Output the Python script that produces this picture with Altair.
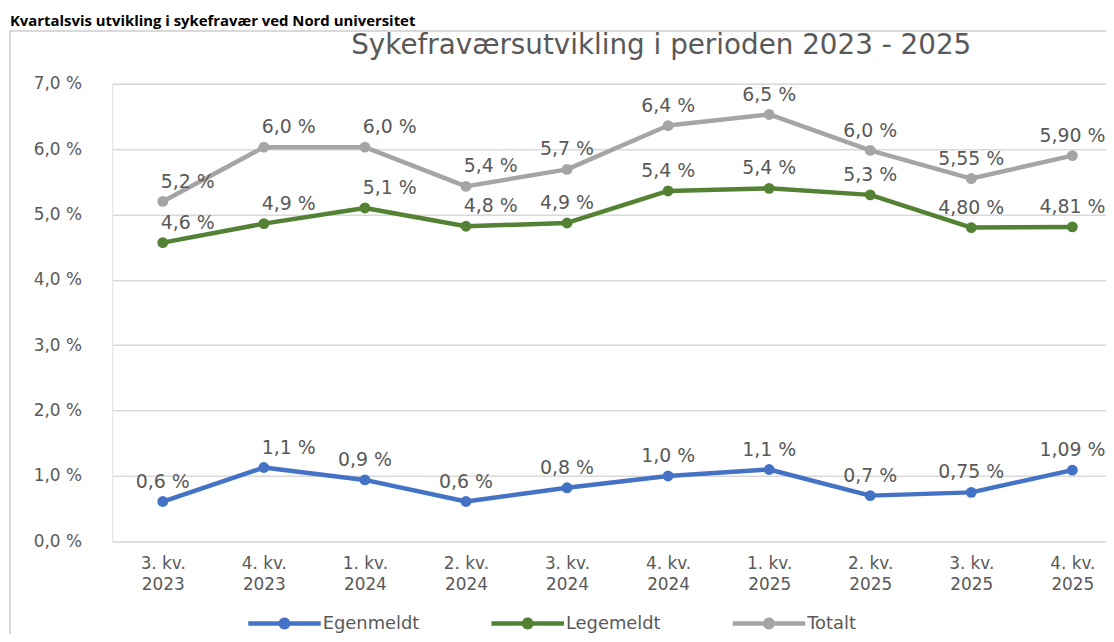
import altair as alt
import pandas as pd

# ---------------- data ----------------
kvartaler = ["3. kv. 2023", "4. kv. 2023", "1. kv. 2024", "2. kv. 2024", "3. kv. 2024",
             "4. kv. 2024", "1. kv. 2025", "2. kv. 2025", "3. kv. 2025", "4. kv. 2025"]
serier = ["Egenmeldt", "Legemeldt", "Totalt"]

egenmeldt = [0.61, 1.13, 0.94, 0.61, 0.82, 1.00, 1.10, 0.70, 0.75, 1.09]
legemeldt = [4.57, 4.86, 5.10, 4.82, 4.87, 5.36, 5.40, 5.30, 4.80, 4.81]
totalt = [5.20, 6.03, 6.03, 5.43, 5.69, 6.36, 6.53, 5.98, 5.55, 5.90]

egenmeldt_etiketter = ["0,6 %", "1,1 %", "0,9 %", "0,6 %", "0,8 %", "1,0 %", "1,1 %", "0,7 %", "0,75 %", "1,09 %"]
legemeldt_etiketter = ["4,6 %", "4,9 %", "5,1 %", "4,8 %", "4,9 %", "5,4 %", "5,4 %", "5,3 %", "4,80 %", "4,81 %"]
totalt_etiketter = ["5,2 %", "6,0 %", "6,0 %", "5,4 %", "5,7 %", "6,4 %", "6,5 %", "6,0 %", "5,55 %", "5,90 %"]

y_ticks = [0, 1, 2, 3, 4, 5, 6, 7]

# labels that Excel had moved to the right of their point
flyttede_etiketter = [("Egenmeldt", "4. kv. 2023"),
                      ("Legemeldt", "3. kv. 2023"), ("Legemeldt", "4. kv. 2023"),
                      ("Legemeldt", "1. kv. 2024"), ("Legemeldt", "2. kv. 2024"),
                      ("Totalt", "3. kv. 2023"), ("Totalt", "4. kv. 2023"),
                      ("Totalt", "1. kv. 2024"), ("Totalt", "2. kv. 2024")]

overskrift = "Kvartalsvis utvikling i sykefravær ved Nord universitet"
tittel = "Sykefraværsutvikling i perioden 2023 - 2025"

farger = ["#4472C4", "#548235", "#A5A5A5"]
tekstfarge = "#595959"
FONT = "DejaVu Sans"

# ---------------- table ----------------
rows = []
for serie, verdier, etiketter in [("Egenmeldt", egenmeldt, egenmeldt_etiketter),
                                  ("Legemeldt", legemeldt, legemeldt_etiketter),
                                  ("Totalt", totalt, totalt_etiketter)]:
    for k, v, e in zip(kvartaler, verdier, etiketter):
        rows.append({"kvartal": k, "serie": serie, "verdi": v, "etikett": e,
                     "flyttet": (serie, k) in flyttede_etiketter})
df = pd.DataFrame(rows)

one = pd.DataFrame({"a": [0]})

# ---------------- scales / encodings ----------------
x_scale = alt.Scale(type="point", domain=kvartaler, range=[0, 1018], padding=0.5)
y_scale = alt.Scale(domain=[0, 7], nice=False)

x_enc = alt.X("kvartal:N", scale=x_scale,
              axis=alt.Axis(title=None, labelAngle=0, domain=False, ticks=False, grid=False,
                            labelExpr="[slice(datum.label, 0, 6), slice(datum.label, 7)]",
                            labelFontSize=17, labelColor=tekstfarge, labelFont=FONT,
                            labelPadding=14, labelLineHeight=21))
y_enc = alt.Y("verdi:Q", scale=y_scale,
              axis=alt.Axis(title=None, values=y_ticks, domain=False, ticks=False,
                            labelExpr="replace(format(datum.value, '.1f'), '.', ',') + ' %'",
                            labelFontSize=17, labelColor=tekstfarge, labelFont=FONT,
                            labelPadding=31, gridColor="#D9D9D9", gridWidth=1.5))

legend_symbol = ("M-1,-0.062 L1,-0.062 L1,0.062 L-1,0.062 Z "
                 "M0.165,0 A0.165,0.165 0 1,1 -0.165,0 A0.165,0.165 0 1,1 0.165,0 Z")

base = alt.Chart(df)

# one line layer per series (fixed colour, no legend of their own)
line_layers = [
    base.transform_filter(alt.datum.serie == s).mark_line(
        strokeWidth=4.5, strokeJoin="round", color=c
    ).encode(x=x_enc, y=y_enc)
    for s, c in zip(serier, farger)
]

points = base.mark_point(filled=True, size=120, opacity=1).encode(
    x=x_enc, y=y_enc,
    color=alt.Color("serie:N", scale=alt.Scale(domain=serier, range=farger),
                    legend=alt.Legend(orient="none", legendX=137, legendY=507,
                                      direction="horizontal", title=None,
                                      symbolType=legend_symbol, symbolSize=5329,
                                      symbolStrokeWidth=0, symbolOpacity=1,
                                      labelFontSize=18, labelColor=tekstfarge, labelFont=FONT,
                                      columnPadding=72, labelOffset=2)),
)

labels_center = base.transform_filter("!datum.flyttet").mark_text(
    fontSize=19, color=tekstfarge, font=FONT, baseline="middle", align="center", dy=-20
).encode(x=x_enc, y=y_enc, text="etikett:N")

labels_right = base.transform_filter("datum.flyttet").mark_text(
    fontSize=19, color=tekstfarge, font=FONT, baseline="middle", align="center", dy=-20, dx=25
).encode(x=x_enc, y=y_enc, text="etikett:N")

border = alt.Chart(one).mark_rect(fillOpacity=0, stroke="#D9D9D9", strokeWidth=2).encode(
    x=alt.value(-103), x2=alt.value(1100), y=alt.value(-53), y2=alt.value(700))

header = alt.Chart(one).mark_text(
    align="left", baseline="top", fontSize=15, fontWeight="bold", color="#000000", font="Open Sans"
).encode(x=alt.value(-103), y=alt.value(-70), text=alt.value(overskrift))

title = alt.Chart(one).mark_text(
    align="center", baseline="alphabetic", fontSize=28, color=tekstfarge, font=FONT
).encode(x=alt.value(553), y=alt.value(-30), text=alt.value(tittel))

chart = alt.layer(border, header, title, *line_layers, points, labels_center, labels_right).properties(
    width=1001, height=461,
    autosize=alt.AutoSizeParams(type="none"),
    padding={"left": 105, "top": 74, "right": 0, "bottom": 91},
).configure_view(strokeWidth=0).configure(background="white")

chart.save("out.html", embed_options={"renderer": "svg", "actions": False})
